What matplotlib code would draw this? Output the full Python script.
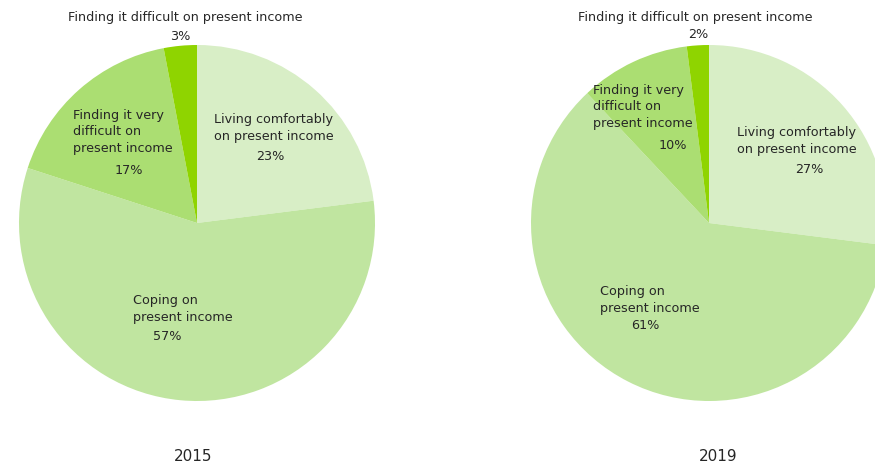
import matplotlib
matplotlib.use("Agg")
import matplotlib.pyplot as plt

# Data
categories = ["Living comfortably on present income", "Coping on present income",
              "Finding it very difficult on present income", "Finding it difficult on present income"]
values_2015 = [23, 57, 17, 3]
values_2019 = [27, 61, 10, 2]
years = ["2015", "2019"]

colors = ["#d8eec6", "#c0e5a0", "#abde72", "#8fd400"]
txt = "#262626"

W, H = 875, 464
fig = plt.figure(figsize=(W / 100, H / 100), dpi=100)
ax = fig.add_axes([0, 0, 1, 1])

# pies (y axis inverted -> counterclock=True draws clockwise on screen)
centers = [(197, 224), (709, 224)]
radius = 178
for (cx, cy), vals in zip(centers, [values_2015, values_2019]):
    ax.pie(vals, colors=colors, startangle=-90, counterclock=True,
           center=(cx, cy), radius=radius, frame=True,
           wedgeprops=dict(linewidth=0))
ax.set_xlim(0, W)
ax.set_ylim(H, 0)
ax.set_aspect("equal")
ax.axis("off")

fs = 9.2
def label(x, y, s, ha="left", size=fs):
    ax.text(x, y, s, fontsize=size, color=txt, ha=ha, va="center", linespacing=1.35)

# 2015
label(185, 18, "Finding it difficult on present income", ha="center")
label(180, 36, f"{values_2015[3]}%", ha="center")
label(214, 128, "Living comfortably\non present income")
label(270, 157, f"{values_2015[0]}%", ha="center")
label(73, 132, "Finding it very\ndifficult on\npresent income")
label(129, 171, f"{values_2015[2]}%", ha="center")
label(133, 309, "Coping on\npresent income")
label(167, 337, f"{values_2015[1]}%", ha="center")
label(193, 457, years[0], ha="center", size=11)

# 2019
label(695, 18, "Finding it difficult on present income", ha="center")
label(698, 35, f"{values_2019[3]}%", ha="center")
label(593, 107, "Finding it very\ndifficult on\npresent income")
label(673, 146, f"{values_2019[2]}%", ha="center")
label(737, 141, "Living comfortably\non present income")
label(809, 170, f"{values_2019[0]}%", ha="center")
label(600, 300, "Coping on\npresent income")
label(645, 326, f"{values_2019[1]}%", ha="center")
label(718, 457, years[1], ha="center", size=11)

fig.savefig("out.png", dpi=100, facecolor="white")
